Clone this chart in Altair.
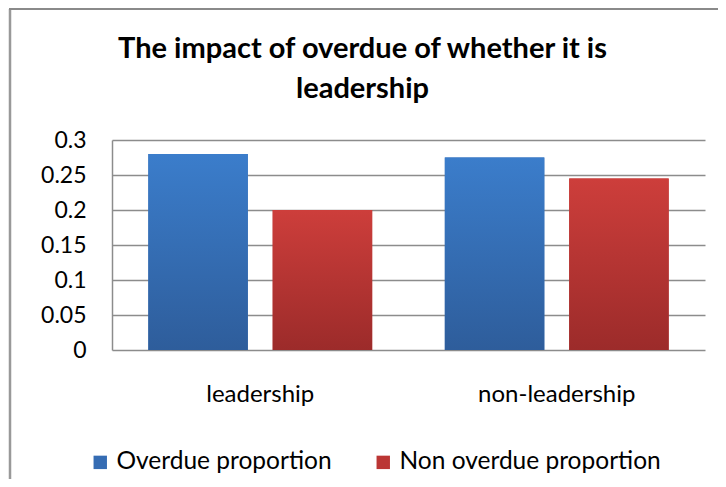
import altair as alt
import pandas as pd

categories = ["leadership", "non-leadership"]
series = ["Overdue proportion", "Non overdue proportion"]
overdue = [0.28, 0.275]
non_overdue = [0.20, 0.245]
y_ticks = [0, 0.05, 0.1, 0.15, 0.2, 0.25, 0.3]

rows = []
for i, c in enumerate(categories):
    rows.append({"category": c, "series": series[0], "value": overdue[i]})
    rows.append({"category": c, "series": series[1], "value": non_overdue[i]})
df = pd.DataFrame(rows)

FONT = "Lato"
GRID = "#8c8c8c"

blue_grad = {"gradient": "linear", "x1": 0, "y1": 0, "x2": 0, "y2": 1,
             "stops": [{"offset": 0, "color": "#3B7DCB"}, {"offset": 1, "color": "#2E5D9B"}]}
red_grad = {"gradient": "linear", "x1": 0, "y1": 0, "x2": 0, "y2": 1,
            "stops": [{"offset": 0, "color": "#CD3E3B"}, {"offset": 1, "color": "#9C2B2A"}]}

x = alt.X("category:N", sort=categories,
          scale=alt.Scale(paddingInner=0.245, paddingOuter=0.1225),
          axis=alt.Axis(title=None, labelAngle=0, labelFontSize=24, labelFont=FONT,
                        labelColor="#000000", labelPadding=32, domain=False, ticks=False))
xoff = alt.XOffset("series:N", sort=series, scale=alt.Scale(paddingInner=0.2, paddingOuter=0))
y = alt.Y("value:Q", scale=alt.Scale(domain=[0, 0.3], nice=False),
          axis=alt.Axis(title=None, values=y_ticks, format="~g", labelFontSize=23, labelFont=FONT,
                        labelColor="#000000", labelPadding=26, ticks=False,
                        domainColor=GRID, domainWidth=1.5, gridColor=GRID, gridWidth=1.5))

base = alt.Chart(df).mark_bar().encode(
    x=x, xOffset=xoff, y=y,
    color=alt.Color("series:N", sort=series,
                    scale=alt.Scale(domain=series, range=["#356CB3", "#BB3634"]),
                    legend=alt.Legend(orient="none", legendX=-24, legendY=310, direction="horizontal",
                                      title=None, symbolType="square", symbolSize=180,
                                      symbolStrokeWidth=0, labelFontSize=24.5, labelFont=FONT,
                                      labelColor="#000000", columnPadding=39, labelOffset=4,
                                      labelLimit=500)),
)

grad = alt.Chart(df).mark_bar().encode(
    x=x, xOffset=xoff, y=y,
    fill=alt.condition(alt.datum.series == series[0], alt.value(blue_grad), alt.value(red_grad)),
)

frame_left = alt.Chart(alt.Data(values=[{}])).mark_rule(color="#999999", strokeWidth=2.5).encode(
    x=alt.value(-102), y=alt.value(-131), y2=alt.value(400))
frame_top = alt.Chart(alt.Data(values=[{}])).mark_rule(color="#8a8a8a", strokeWidth=2).encode(
    x=alt.value(-103), x2=alt.value(640), y=alt.value(-131))

chart = alt.layer(base, grad, frame_left, frame_top).properties(
    width=593, height=210,
    autosize=alt.AutoSizeParams(type="none"),
    padding={"left": 104, "top": 132, "right": 13, "bottom": 129},
    title=alt.Title(["The impact of overdue of whether it is", "leadership"], font=FONT,
                    fontSize=29, fontWeight="bold", color="#000000", anchor="middle",
                    frame="group", dx=-46, offset=-96, lineHeight=40),
).configure_view(strokeWidth=0)

chart.save("out.html", embed_options={"renderer": "svg", "actions": False})
